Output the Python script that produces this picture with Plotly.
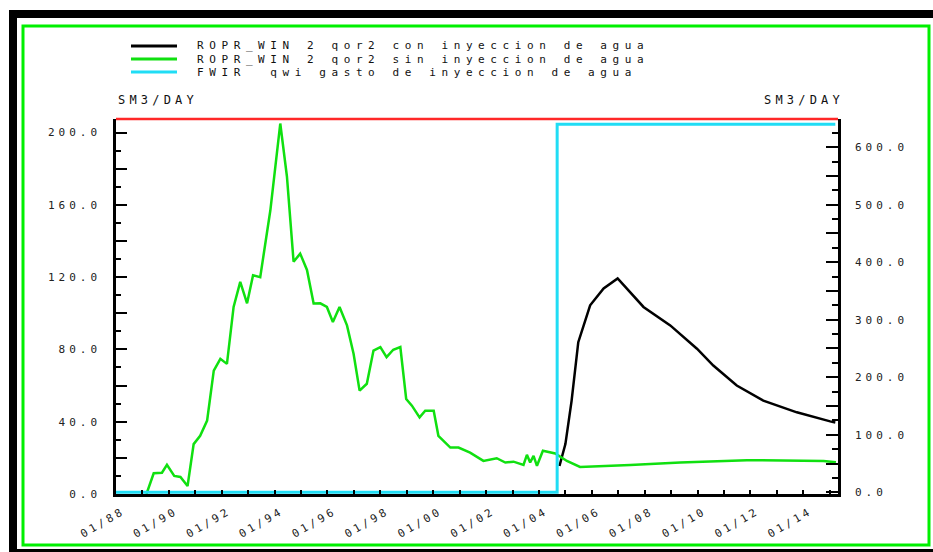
import plotly.graph_objects as go

# ---- dati (anno decimale, SM3/DAY)
green_t = [1989.15, 1989.43, 1989.74, 1989.93, 1990.21, 1990.44, 1990.71, 1990.94,
           1991.19, 1991.45, 1991.70, 1991.95, 1992.20, 1992.45, 1992.70, 1992.96,
           1993.19, 1993.46, 1993.84, 1994.22, 1994.47, 1994.72, 1994.97, 1995.23,
           1995.48, 1995.73, 1995.98, 1996.21, 1996.46, 1996.74, 1996.99, 1997.22,
           1997.50, 1997.75, 1998.00, 1998.25, 1998.50, 1998.76, 1998.98, 1999.20,
           1999.49, 1999.70, 2000.02, 2000.20, 2000.65, 2000.96, 2001.40, 2001.90,
           2002.41, 2002.73, 2003.04, 2003.42, 2003.55, 2003.67, 2003.80, 2003.93,
           2004.15, 2004.62, 2005.06, 2005.56, 2007.46, 2009.35, 2011.87, 2013.76,
           2014.77, 2015.25]
green_v = [0.0, 11.5, 11.8, 16.1, 10.0, 9.4, 4.4, 27.6,
           32.2, 40.6, 68.3, 74.8, 72.0, 103.5, 117.4, 105.5,
           121.0, 120.0, 157.0, 205.0, 175.7, 128.5, 133.0, 124.0,
           105.4, 105.5, 103.5, 95.2, 103.5, 93.3, 77.6, 57.2,
           61.0, 79.4, 81.3, 75.7, 79.8, 81.3, 52.6, 48.9,
           42.4, 46.1, 46.1, 32.2, 25.7, 25.7, 22.9, 18.3,
           19.8, 17.4, 17.9, 16.1, 21.7, 17.4, 21.1, 15.6,
           23.9, 22.4, 18.3, 15.0, 16.1, 17.4, 18.7, 18.7,
           18.3, 17.6]

black_t = [2004.78, 2005.00, 2005.25, 2005.50, 2005.94, 2006.45, 2006.98, 2007.96,
           2008.97, 2009.98, 2010.60, 2011.49, 2012.50, 2013.76, 2015.02, 2015.22]
black_v = [15.5, 27.6, 51.7, 84.0, 104.4, 113.7, 119.3, 103.5,
           93.3, 80.4, 71.1, 60.0, 51.7, 45.2, 40.2, 39.6]

cyan_t = [1988.0, 2004.69, 2004.69, 2015.22]
cyan_v = [0.0, 0.0, 640.0, 640.0]

left_ticks = [0, 20, 40, 60, 80, 100, 120, 140, 160, 180, 200]
left_text = ["0.0", "", "40.0", "", "80.0", "", "120.0", "", "160.0", "", "200.0"]
right_ticks = [0, 50, 100, 150, 200, 250, 300, 350, 400, 450, 500, 550, 600]
right_text = ["0.0", "", "100.0", "", "200.0", "", "300.0", "", "400.0", "", "500.0", "", "600.0"]

names = ["ROPR_WIN 2 qor2 con inyeccion de agua",
         "ROPR_WIN 2 qor2 sin inyeccion de agua",
         "FWIR  qwi gasto de inyeccion de agua"]
colors = ["black", "#10E010", "#20DDF5"]


def yr(t):
    y = int(t)
    d = (t - y) * 365.25
    m = min(12, int(d // 30.44) + 1)
    day = min(28, int(d - (m - 1) * 30.44) + 1)
    return f"{y}-{m:02d}-{day:02d}"


W, H = 933, 552
L, R, T, B = 116, 838, 119, 494     # area del grafico in pixel


def px(x):
    return (x - L) / (R - L)


def py(y):
    return (B - y) / (B - T)


MONO = "DejaVu Sans Mono"

fig = go.Figure()
fig.add_trace(go.Scatter(x=[yr(t) for t in black_t], y=black_v, name=names[0],
                         mode="lines", line=dict(color=colors[0], width=2.5)))
fig.add_trace(go.Scatter(x=[yr(t) for t in green_t], y=green_v, name=names[1],
                         mode="lines", line=dict(color=colors[1], width=2.5)))
fig.add_trace(go.Scatter(x=[yr(t) for t in cyan_t], y=cyan_v, name=names[2],
                         mode="lines", line=dict(color=colors[2], width=3), yaxis="y2"))

shapes = [
    dict(type="rect", xref="paper", yref="paper", x0=px(9), x1=px(933), y0=py(18), y1=py(10),
         fillcolor="black", line_width=0),
    dict(type="rect", xref="paper", yref="paper", x0=px(9), x1=px(17), y0=py(552), y1=py(10),
         fillcolor="black", line_width=0),
    dict(type="rect", xref="paper", yref="paper", x0=px(9), x1=px(933), y0=py(552), y1=py(549),
         fillcolor="black", line_width=0),
    dict(type="rect", xref="paper", yref="paper", x0=px(23), x1=px(929), y0=py(545), y1=py(26),
         line=dict(color="#00F000", width=3)),
    dict(type="line", xref="paper", yref="paper", x0=0, x1=1, y0=1, y1=1,
         line=dict(color="#FF2828", width=2.5)),
]
annotations = [
    dict(text="SM3/DAY", xref="paper", yref="paper", x=px(116), y=py(100),
         xanchor="left", yanchor="middle", align="left", showarrow=False,
         font=dict(family=MONO, size=12, color="#111")),
    dict(text="SM3/DAY", xref="paper", yref="paper", x=px(762), y=py(100),
         xanchor="left", yanchor="middle", align="left", showarrow=False,
         font=dict(family=MONO, size=12, color="#111")),
]
# legenda disegnata a mano (righe strette come nell'originale)
for i, (nm, c) in enumerate(zip(names, colors)):
    yy = 46 + 13 * i
    shapes.append(dict(type="line", xref="paper", yref="paper", x0=px(131), x1=px(177),
                       y0=py(yy), y1=py(yy), line=dict(color=c, width=3)))
    annotations.append(dict(text=nm, xref="paper", yref="paper", x=px(196), y=py(yy),
                            xanchor="left", yanchor="middle", align="left", showarrow=False,
                            borderpad=0, font=dict(family=MONO, size=11, color="#111")))

fig.update_layout(
    width=W, height=H,
    margin=dict(l=L, r=W - R, t=T, b=H - B),
    paper_bgcolor="white", plot_bgcolor="white",
    font=dict(family=MONO, size=11, color="#222"),
    showlegend=False,
    xaxis=dict(type="date", range=[yr(1988.0), yr(2015.32)],
               showgrid=False, zeroline=False, showline=True, linecolor="black", linewidth=3,
               ticks="inside", ticklen=4, tickwidth=2, tickcolor="black",
               tick0="1988-01-01", dtick="M24", tickformat="%m/%y", tickangle=-30,
               ticklabelstandoff=4, ticklabelshift=7,
               minor=dict(ticks="inside", ticklen=4, tickwidth=2, tickcolor="black", dtick="M12")),
    yaxis=dict(range=[0, 207.5], showgrid=False, zeroline=False,
               showline=True, linecolor="black", linewidth=2.5,
               tickmode="array", tickvals=left_ticks, ticktext=left_text,
               ticks="inside", ticklen=11, tickwidth=2, tickcolor="black",
               ticklabelstandoff=10,
               minor=dict(ticks="inside", ticklen=5, tickwidth=2, tickcolor="black", dtick=10)),
    yaxis2=dict(range=[-3, 649], overlaying="y", side="right", showgrid=False, zeroline=False,
                showline=True, linecolor="black", linewidth=2.5,
                tickmode="array", tickvals=right_ticks, ticktext=right_text,
                ticks="inside", ticklen=12, tickwidth=2, tickcolor="black",
                ticklabelstandoff=12,
                minor=dict(ticks="inside", ticklen=6, tickwidth=2, tickcolor="black", dtick=25)),
    shapes=shapes,
    annotations=annotations,
)

# pagina senza margine; il font originale e' molto largo: allarga le spaziature
post = """
document.body.style.margin = '0';
var sp = [['.xtick text', '3.2px'], ['.ytick text', '4px'], ['.y2tick text', '4px']];
sp.forEach(function(p){
  document.querySelectorAll(p[0]).forEach(function(e){ e.style.letterSpacing = p[1]; });
});
document.querySelectorAll('.annotation-text').forEach(function(e){
  e.style.letterSpacing = (e.textContent.length > 10) ? '5.6px' : '4.2px';
});
"""
fig.write_html("out.html", post_script=post, config={"displayModeBar": False})
